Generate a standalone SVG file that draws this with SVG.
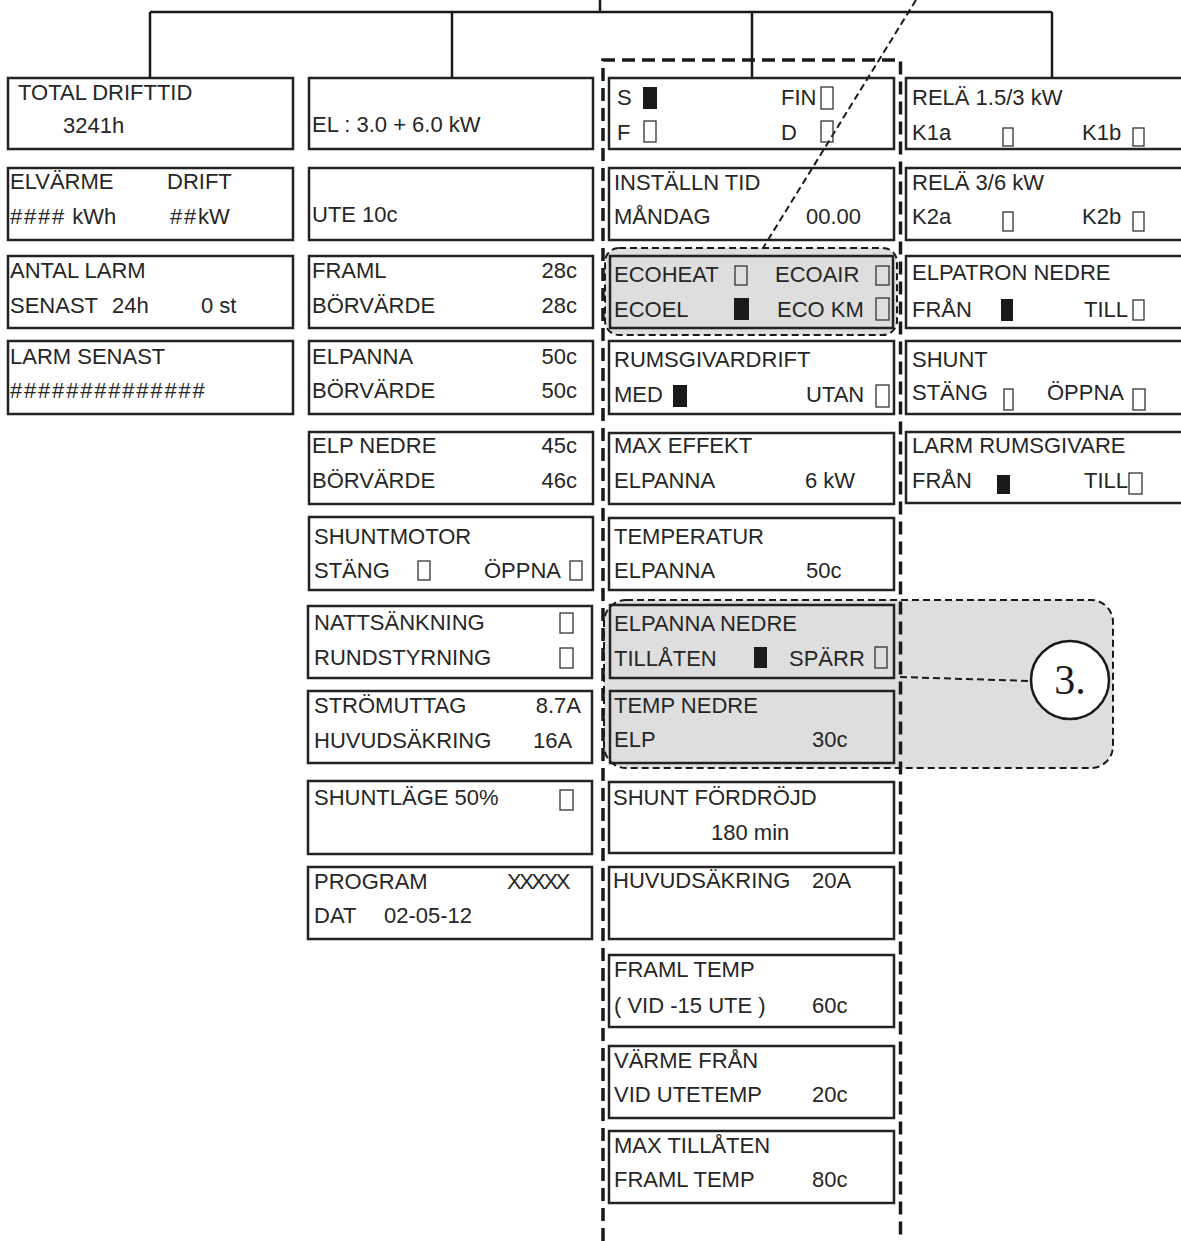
<svg xmlns="http://www.w3.org/2000/svg" width="1181" height="1241" viewBox="0 0 1181 1241">
<style>
.box{fill:none;stroke:#222;stroke-width:2.5}
.t{font-family:"Liberation Sans",Arial,Helvetica,sans-serif;font-size:22px;fill:#262626}
.e{text-anchor:end}
.h{letter-spacing:1.8px}
.cb{fill:#fff;fill-opacity:0;stroke:#333;stroke-width:1.3}
.cf{fill:#1a1a1a}
.tree{fill:none;stroke:#1a1a1a;stroke-width:2.5}
.thin{fill:none;stroke:#1a1a1a;stroke-width:2;stroke-dasharray:7 4}
.thick{fill:none;stroke:#1a1a1a;stroke-width:3.5;stroke-dasharray:13 7}
.gray{fill:#dedede;stroke:#1a1a1a;stroke-width:2;stroke-dasharray:7 4}
</style>
<rect width="1181" height="1241" fill="#fff"/>
<g id="highlights">
<rect class="gray" x="605" y="248" width="292" height="87" rx="14"/>
<rect class="gray" x="604" y="600" width="509" height="168" rx="22"/>
</g>
<g id="connectors">
<path class="tree" d="M600,0 V12 M150,12 H1052 M150,12 V78 M452,12 V78 M752,12 V78 M1052,12 V78"/>
<path class="thick" d="M603,1241 V60 H900.5 V1241"/>
<line class="thin" x1="916" y1="0" x2="763" y2="248"/>
<line class="thin" x1="900" y1="677" x2="1031" y2="681"/>
</g>
<g id="callout3">
<circle cx="1070" cy="680" r="39" fill="#fff" stroke="#1a1a1a" stroke-width="2.5"/>
<text x="1070" y="694" text-anchor="middle" font-family="'Liberation Serif','Times New Roman',serif" font-size="42" fill="#1a1a1a">3.</text>
</g>
<!-- column 1 -->
<g id="c1r1"><rect class="box" x="8" y="78" width="285" height="71"/><text class="t" x="18" y="100">TOTAL DRIFTTID</text><text class="t" x="63" y="133">3241h</text></g>
<g id="c1r2"><rect class="box" x="8" y="168" width="285" height="72"/><text class="t" x="10" y="189">ELVÄRME</text><text class="t" x="167" y="189">DRIFT</text><text class="t" x="10" y="224"><tspan class="h">####</tspan> kWh</text><text class="t" x="170" y="224"><tspan class="h">##</tspan>kW</text></g>
<g id="c1r3"><rect class="box" x="8" y="256" width="285" height="72"/><text class="t" x="10" y="278">ANTAL LARM</text><text class="t" x="10" y="313">SENAST</text><text class="t" x="112" y="313">24h</text><text class="t" x="201" y="313">0 st</text></g>
<g id="c1r4"><rect class="box" x="8" y="341" width="285" height="73"/><text class="t" x="10" y="364">LARM SENAST</text><text class="t h" x="10" y="398">##############</text></g>
<!-- column 2 -->
<g id="c2r1"><rect class="box" x="309" y="78" width="284" height="71"/><text class="t" x="312" y="132">EL : 3.0 + 6.0 kW</text></g>
<g id="c2r2"><rect class="box" x="309" y="168" width="284" height="72"/><text class="t" x="312" y="222">UTE 10c</text></g>
<g id="c2r3"><rect class="box" x="309" y="256" width="284" height="72"/><text class="t" x="312" y="278">FRAML</text><text class="t e" x="577" y="278">28c</text><text class="t" x="312" y="313">BÖRVÄRDE</text><text class="t e" x="577" y="313">28c</text></g>
<g id="c2r4"><rect class="box" x="309" y="341" width="284" height="73"/><text class="t" x="312" y="364">ELPANNA</text><text class="t e" x="577" y="364">50c</text><text class="t" x="312" y="398">BÖRVÄRDE</text><text class="t e" x="577" y="398">50c</text></g>
<g id="c2r5"><rect class="box" x="309" y="432" width="284" height="72"/><text class="t" x="312" y="453">ELP NEDRE</text><text class="t e" x="577" y="453">45c</text><text class="t" x="312" y="488">BÖRVÄRDE</text><text class="t e" x="577" y="488">46c</text></g>
<g id="c2r6"><rect class="box" x="309" y="517" width="284" height="73"/><text class="t" x="314" y="544">SHUNTMOTOR</text><text class="t" x="314" y="578">STÄNG</text><rect class="cb" x="418" y="561" width="12" height="19"/><text class="t" x="484" y="578">ÖPPNA</text><rect class="cb" x="570" y="561" width="12" height="19"/></g>
<g id="c2r7"><rect class="box" x="308" y="606" width="284" height="72"/><text class="t" x="314" y="630">NATTSÄNKNING</text><rect class="cb" x="560" y="613" width="13" height="20"/><text class="t" x="314" y="665">RUNDSTYRNING</text><rect class="cb" x="560" y="648" width="13" height="20"/></g>
<g id="c2r8"><rect class="box" x="308" y="691" width="284" height="72"/><text class="t" x="314" y="713">STRÖMUTTAG</text><text class="t e" x="581" y="713">8.7A</text><text class="t" x="314" y="748">HUVUDSÄKRING</text><text class="t" x="533" y="748">16A</text></g>
<g id="c2r9"><rect class="box" x="308" y="781" width="284" height="73"/><text class="t" x="314" y="805">SHUNTLÄGE 50%</text><rect class="cb" x="560" y="790" width="13" height="20"/></g>
<g id="c2r10"><rect class="box" x="308" y="867" width="284" height="72"/><text class="t" x="314" y="889">PROGRAM</text><text class="t" x="507" y="889" letter-spacing="-2.5">XXXXX</text><text class="t" x="314" y="923">DAT</text><text class="t" x="384" y="923">02-05-12</text></g>
<!-- column 3 -->
<g id="c3r1"><rect class="box" x="609" y="78" width="285" height="71"/><text class="t" x="617" y="105">S</text><rect class="cf" x="643" y="87" width="14" height="22"/><text class="t" x="781" y="105">FIN</text><rect class="cb" x="821" y="87" width="12" height="22"/><text class="t" x="617" y="140">F</text><rect class="cb" x="644" y="121" width="12" height="21"/><text class="t" x="781" y="140">D</text><rect class="cb" x="821" y="121" width="12" height="21"/></g>
<g id="c3r2"><rect class="box" x="609" y="168" width="285" height="72"/><text class="t" x="614" y="190">INSTÄLLN TID</text><text class="t" x="614" y="224">MÅNDAG</text><text class="t" x="806" y="224">00.00</text></g>
<g id="c3r3"><rect class="box" x="610" y="256" width="283" height="72"/><text class="t" x="614" y="282">ECOHEAT</text><rect class="cb" x="735" y="266" width="12" height="19"/><text class="t" x="775" y="282">ECOAIR</text><rect class="cb" x="876" y="266" width="13" height="19"/><text class="t" x="614" y="317">ECOEL</text><rect class="cf" x="734" y="298" width="15" height="22"/><text class="t" x="777" y="317">ECO KM</text><rect class="cb" x="876" y="298" width="13" height="22"/></g>
<g id="c3r4"><rect class="box" x="609" y="341" width="285" height="73"/><text class="t" x="614" y="367">RUMSGIVARDRIFT</text><text class="t" x="614" y="402">MED</text><rect class="cf" x="673" y="385" width="14" height="22"/><text class="t" x="806" y="402">UTAN</text><rect class="cb" x="876" y="385" width="13" height="22"/></g>
<g id="c3r5"><rect class="box" x="609" y="433" width="285" height="71"/><text class="t" x="614" y="453">MAX EFFEKT</text><text class="t" x="614" y="488">ELPANNA</text><text class="t" x="805" y="488">6 kW</text></g>
<g id="c3r6"><rect class="box" x="609" y="518" width="285" height="72"/><text class="t" x="614" y="544">TEMPERATUR</text><text class="t" x="614" y="578">ELPANNA</text><text class="t" x="806" y="578">50c</text></g>
<g id="c3r7"><rect class="box" x="610" y="605" width="284" height="73"/><text class="t" x="614" y="631">ELPANNA NEDRE</text><text class="t" x="614" y="666">TILLÅTEN</text><rect class="cf" x="754" y="647" width="13" height="21"/><text class="t" x="789" y="666">SPÄRR</text><rect class="cb" x="875" y="647" width="12" height="21"/></g>
<g id="c3r8"><rect class="box" x="610" y="691" width="284" height="72"/><text class="t" x="614" y="713">TEMP NEDRE</text><text class="t" x="614" y="747">ELP</text><text class="t" x="812" y="747">30c</text></g>
<g id="c3r9"><rect class="box" x="609" y="782" width="285" height="71"/><text class="t" x="613" y="805">SHUNT FÖRDRÖJD</text><text class="t" x="711" y="840">180 min</text></g>
<g id="c3r10"><rect class="box" x="609" y="867" width="285" height="72"/><text class="t" x="613" y="888">HUVUDSÄKRING</text><text class="t" x="812" y="888">20A</text></g>
<g id="c3r11"><rect class="box" x="609" y="955" width="285" height="72"/><text class="t" x="614" y="977">FRAML TEMP</text><text class="t" x="614" y="1013">( VID -15 UTE )</text><text class="t" x="812" y="1013">60c</text></g>
<g id="c3r12"><rect class="box" x="609" y="1046" width="285" height="72"/><text class="t" x="614" y="1068">VÄRME FRÅN</text><text class="t" x="614" y="1102">VID UTETEMP</text><text class="t" x="812" y="1102">20c</text></g>
<g id="c3r13"><rect class="box" x="609" y="1131" width="285" height="72"/><text class="t" x="614" y="1153">MAX TILLÅTEN</text><text class="t" x="614" y="1187">FRAML TEMP</text><text class="t" x="812" y="1187">80c</text></g>
<!-- column 4 -->
<g id="c4r1"><rect class="box" x="906" y="78" width="300" height="71"/><text class="t" x="912" y="105">RELÄ 1.5/3 kW</text><text class="t" x="912" y="140">K1a</text><rect class="cb" x="1003" y="128" width="10" height="18"/><text class="t" x="1082" y="140">K1b</text><rect class="cb" x="1133" y="128" width="11" height="18"/></g>
<g id="c4r2"><rect class="box" x="906" y="168" width="300" height="72"/><text class="t" x="912" y="190">RELÄ 3/6 kW</text><text class="t" x="912" y="224">K2a</text><rect class="cb" x="1003" y="212" width="10" height="19"/><text class="t" x="1082" y="224">K2b</text><rect class="cb" x="1133" y="212" width="11" height="19"/></g>
<g id="c4r3"><rect class="box" x="906" y="256" width="300" height="72"/><text class="t" x="912" y="280">ELPATRON NEDRE</text><text class="t" x="912" y="317">FRÅN</text><rect class="cf" x="1001" y="299" width="12" height="22"/><text class="t" x="1084" y="317">TILL</text><rect class="cb" x="1133" y="300" width="11" height="20"/></g>
<g id="c4r4"><rect class="box" x="906" y="341" width="300" height="73"/><text class="t" x="912" y="367">SHUNT</text><text class="t" x="912" y="400">STÄNG</text><rect class="cb" x="1004" y="389" width="9" height="21"/><text class="t" x="1047" y="400">ÖPPNA</text><rect class="cb" x="1133" y="389" width="12" height="21"/></g>
<g id="c4r5"><rect class="box" x="906" y="432" width="300" height="71"/><text class="t" x="912" y="453">LARM RUMSGIVARE</text><text class="t" x="912" y="488">FRÅN</text><rect class="cf" x="997" y="475" width="13" height="19"/><text class="t" x="1084" y="488">TILL</text><rect class="cb" x="1129" y="473" width="13" height="21"/></g>
</svg>
